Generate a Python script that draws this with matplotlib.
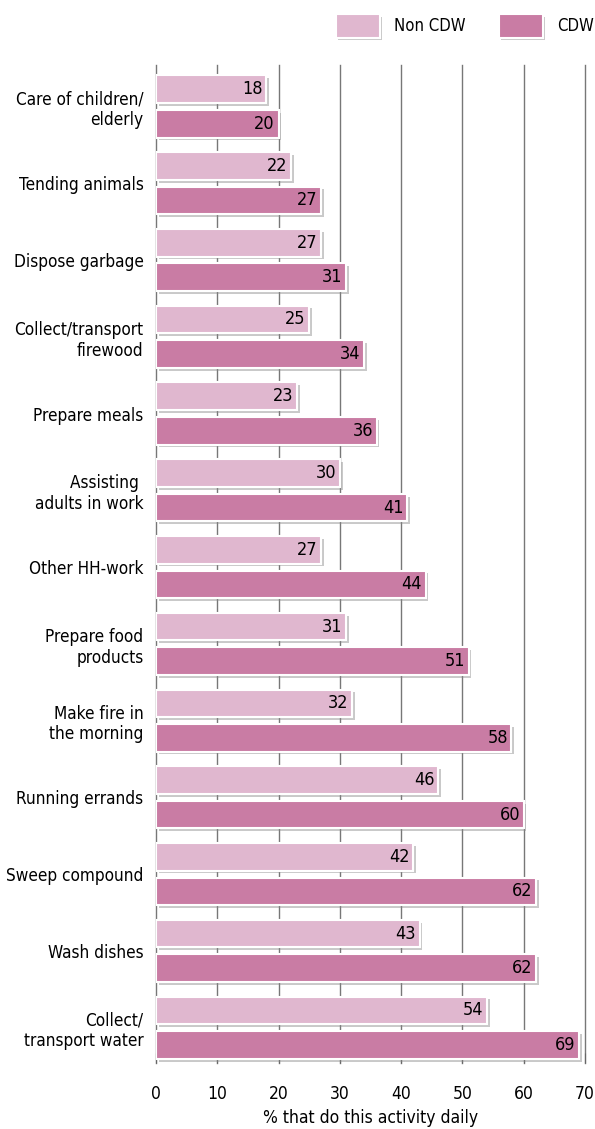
import matplotlib.pyplot as plt
import matplotlib.patheffects as pe
import numpy as np

plt.rcParams['font.family'] = ['DejaVu Sans']
plt.rcParams['font.stretch'] = 'condensed'

activities = ["Care of children/\nelderly", "Tending animals", "Dispose garbage",
              "Collect/transport\nfirewood", "Prepare meals", "Assisting \nadults in work",
              "Other HH-work", "Prepare food\nproducts", "Make fire in\nthe morning",
              "Running errands", "Sweep compound", "Wash dishes",
              "Collect/\ntransport water"]
non_cdw = [18, 22, 27, 25, 23, 30, 27, 31, 32, 46, 42, 43, 54]
cdw = [20, 27, 31, 34, 36, 41, 44, 51, 58, 60, 62, 62, 69]

c_non = "#e0b7cf"
c_cdw = "#c97ca4"

fig = plt.figure(figsize=(5.95, 11.29), dpi=100)
ax = fig.add_axes([156/595, 1-1063/1129, (585-156)/595, (1063-65)/1129])

y = np.arange(len(activities))
off = 0.225
h = 0.36
shadow = [pe.SimplePatchShadow(offset=(2, -2), shadow_rgbFace="#888888", alpha=0.45), pe.Normal()]

b1 = ax.barh(y - off, non_cdw, height=h, color=c_non, edgecolor="white", linewidth=1.5,
             label="Non CDW", zorder=3)
b2 = ax.barh(y + off, cdw, height=h, color=c_cdw, edgecolor="white", linewidth=1.5,
             label="CDW", zorder=3)
for b in list(b1) + list(b2):
    b.set_path_effects(shadow)

for yi, v in zip(y, non_cdw):
    ax.text(v - 0.6, yi - off, str(v), ha="right", va="center", fontsize=13,
            fontweight="medium", zorder=4)
for yi, v in zip(y, cdw):
    ax.text(v - 0.6, yi + off, str(v), ha="right", va="center", fontsize=13,
            fontweight="medium", zorder=4)

ax.set_xlim(0, 70)
ax.set_ylim(12.46, -0.54)
ax.set_yticks(y)
ax.set_yticklabels(activities, fontsize=12.3)
ax.set_xticks(range(0, 71, 10))
ax.tick_params(axis="y", length=0, pad=9)
ax.tick_params(axis="x", length=7, direction="in", color="#666666", labelsize=12.5, pad=16)
ax.grid(axis="x", color="#777777", linewidth=1, zorder=0)
for gl in ax.get_xgridlines():
    gl.set_clip_on(False)
for s in ax.spines.values():
    s.set_visible(False)
ax.set_xlabel("% that do this activity daily", fontsize=12.5, labelpad=4)

leg = fig.legend(handles=[b1, b2], loc="upper right", bbox_to_anchor=(1.017, 0.9975), ncol=2,
                 frameon=False, fontsize=12, handlelength=2.65, handleheight=1.75,
                 columnspacing=2.0, handletextpad=0.84, borderaxespad=0.3)
for p in leg.get_patches():
    p.set_path_effects(shadow)

fig.savefig("out.png", dpi=100)
